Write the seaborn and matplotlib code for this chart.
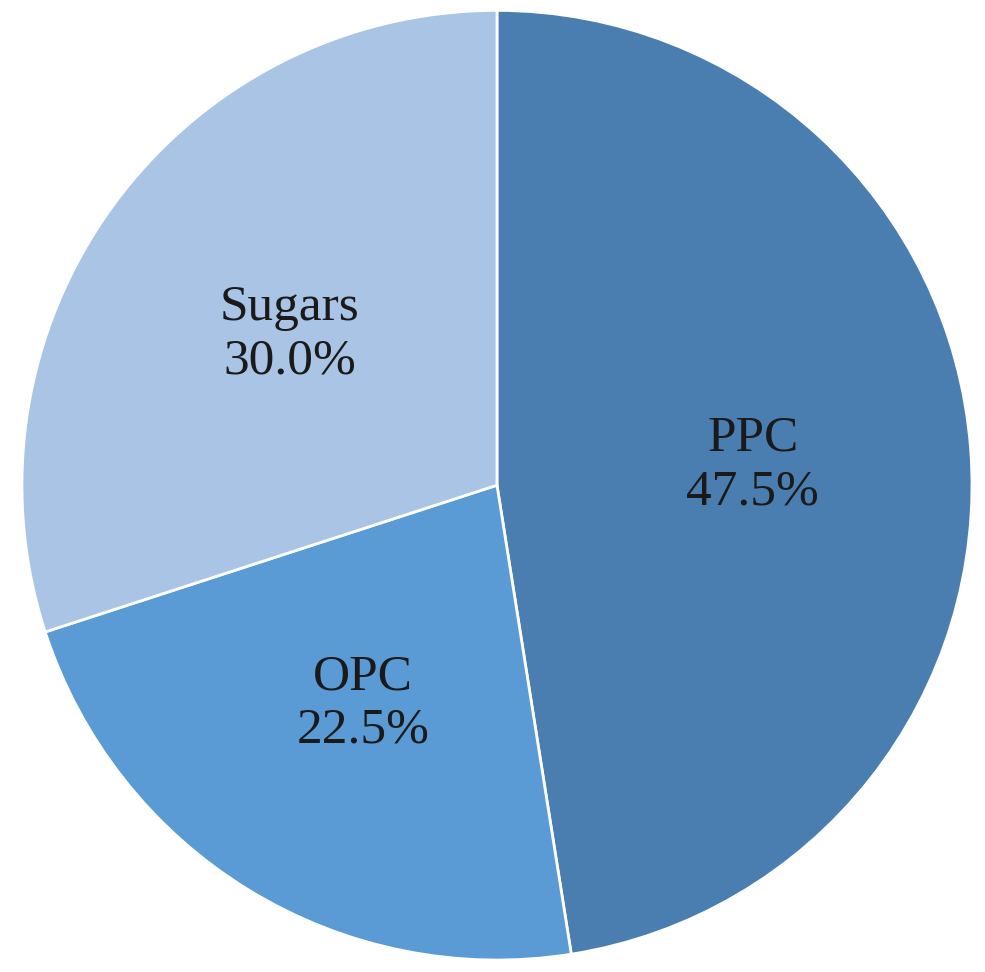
import matplotlib
matplotlib.use("Agg")
import matplotlib.pyplot as plt
import seaborn as sns
import numpy as np

categories = ["PPC", "OPC", "Sugars"]
shares = [47.5, 22.5, 30.0]
colors = ["#4a7eb0", "#5b9bd5", "#a9c4e4"]

sns.set_theme(style="white")
plt.rcParams['font.family'] = ['Liberation Serif', 'DejaVu Serif']

fig = plt.figure(figsize=(9.85, 9.72), dpi=100)
ax = fig.add_axes([0.0223, 0.0123, 0.9645, 0.977])
wedges, texts = ax.pie(shares, colors=colors, startangle=90, counterclock=False,
                       radius=1.0, frame=False,
                       wedgeprops=dict(edgecolor="white", linewidth=2))

for w, name, val in zip(wedges, categories, shares):
    ang = np.deg2rad((w.theta1 + w.theta2) / 2)
    r = 0.54
    ax.text(r * np.cos(ang), r * np.sin(ang), f"{name}\n{val:.1f}%",
            ha="center", va="center", fontsize=37, color="#1a1a1a", linespacing=1.2)

ax.set_xlim(-1, 1)
ax.set_ylim(-1, 1)
ax.set_aspect("auto")
ax.axis("off")
fig.savefig("out.png", dpi=100)
